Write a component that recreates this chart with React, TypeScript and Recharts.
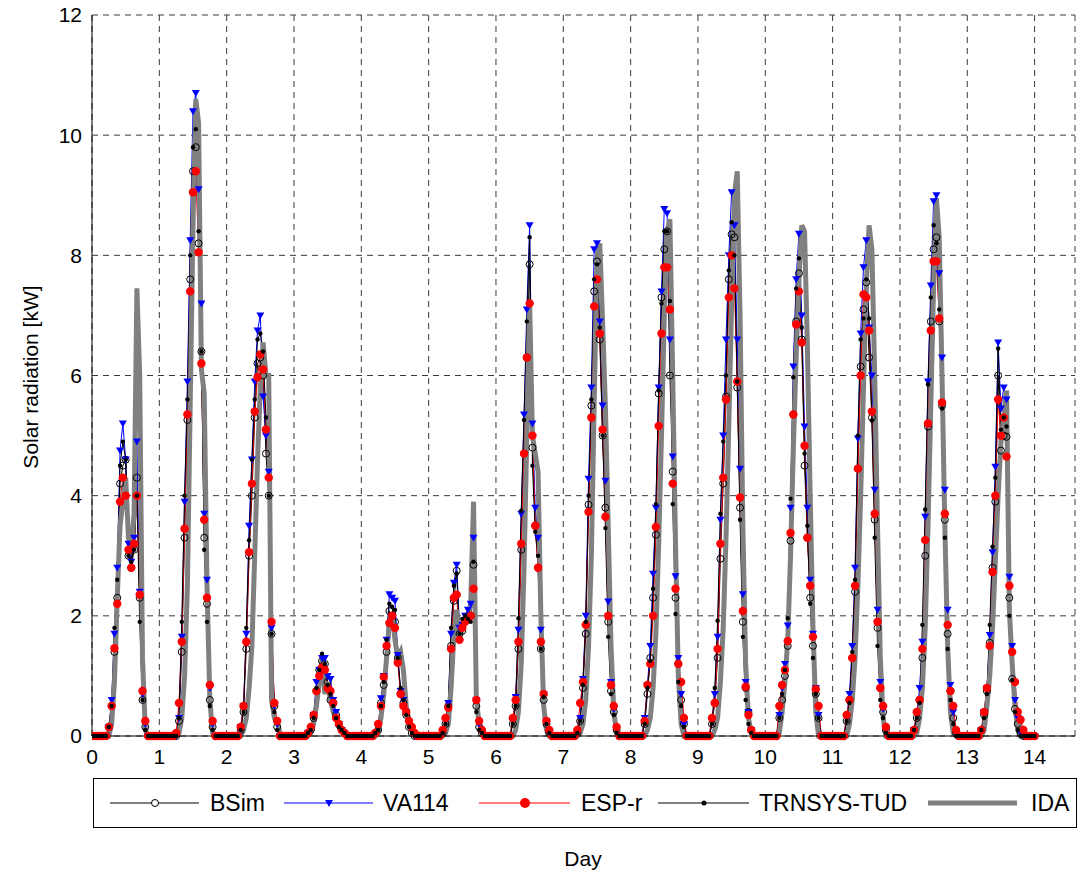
import React from "react";
import { LineChart, Line, XAxis, YAxis, CartesianGrid } from "recharts";

const FONT = '"Liberation Sans", Arial, sans-serif';

// hourly values, each day row starts at 04:00 and runs to 20:00; other hours are night (0)
const firstHour = 4;
const dayTicks = [0, 1, 2, 3, 4, 5, 6, 7, 8, 9, 10, 11, 12, 13, 14];
const kwTicks = [0, 2, 4, 6, 8, 10, 12];

const bsim = [
  [0, 0, 0.15, 0.5, 1.4, 2.3, 4.2, 4.5, 4.6, 3.0, 2.8, 3.1, 4.3, 2.3, 0.6, 0.15, 0],
  [0, 0, 0, 0.25, 1.4, 3.3, 5.26, 7.6, 9.4, 9.8, 8.2, 6.4, 3.3, 2.2, 0.6, 0.15, 0],
  [0, 0.1, 0.4, 1.45, 3.0, 4.0, 5.3, 6.2, 6.3, 6.0, 4.7, 4.0, 1.7, 0.5, 0.15, 0, 0],
  [0, 0.05, 0.1, 0.3, 0.75, 1.1, 1.25, 1.2, 0.9, 0.6, 0.55, 0.35, 0.2, 0.1, 0.05, 0, 0],
  [0, 0.05, 0.1, 0.55, 0.85, 1.4, 2.08, 2.0, 1.9, 1.3, 0.7, 0.55, 0.35, 0.15, 0.05, 0, 0],
  [0, 0.05, 0.2, 0.5, 1.5, 2.25, 2.75, 1.7, 1.75, 1.9, 2.0, 2.0, 2.85, 0.5, 0.15, 0.05, 0],
  [0, 0, 0.2, 0.5, 1.45, 3.1, 4.7, 6.3, 7.85, 4.8, 3.5, 2.8, 1.45, 0.6, 0.2, 0.05, 0],
  [0, 0.05, 0.25, 0.8, 1.7, 3.85, 5.5, 7.4, 7.9, 6.6, 5.0, 3.8, 1.9, 0.75, 0.4, 0.1, 0],
  [0, 0.2, 0.7, 1.3, 2.3, 3.35, 5.7, 7.3, 8.1, 8.4, 6.0, 4.4, 2.3, 1.2, 0.6, 0.2, 0],
  [0, 0.2, 0.55, 1.3, 2.95, 4.2, 5.65, 7.6, 8.35, 8.3, 5.8, 3.8, 1.9, 0.8, 0.4, 0.1, 0],
  [0, 0.3, 0.6, 1.0, 1.5, 3.25, 5.35, 6.9, 7.7, 6.6, 4.5, 3.3, 2.3, 1.5, 0.7, 0.3, 0],
  [0, 0.25, 0.6, 1.3, 2.4, 4.45, 6.15, 7.1, 7.55, 6.3, 5.3, 3.6, 1.8, 0.8, 0.4, 0.1, 0],
  [0, 0.1, 0.3, 0.6, 1.3, 3.0, 5.15, 6.9, 8.1, 8.3, 6.9, 5.5, 3.6, 1.7, 0.75, 0.3, 0.05],
  [0, 0.1, 0.35, 0.75, 1.55, 2.8, 3.9, 6.0, 4.75, 5.0, 4.98, 2.3, 0.95, 0.45, 0.2, 0.05, 0],
];

const va114 = [
  [0, 0, 0.15, 0.6, 1.7, 2.8, 4.75, 5.2, 4.6, 3.2, 2.9, 3.3, 4.9, 2.4, 0.7, 0.2, 0],
  [0, 0, 0, 0.3, 1.65, 3.9, 5.9, 8.25, 10.4, 10.7, 9.1, 7.2, 3.7, 2.6, 0.8, 0.2, 0],
  [0, 0.15, 0.5, 1.7, 3.5, 4.6, 5.9, 6.75, 7.0, 5.65, 5.0, 4.4, 1.8, 0.5, 0.2, 0, 0],
  [0, 0.05, 0.1, 0.35, 0.9, 1.1, 1.3, 1.3, 1.0, 0.95, 0.6, 0.4, 0.2, 0.1, 0.05, 0, 0],
  [0, 0.05, 0.15, 0.63, 1.0, 1.6, 2.36, 2.3, 2.25, 1.35, 0.75, 0.6, 0.4, 0.2, 0.1, 0, 0],
  [0, 0.05, 0.25, 0.55, 1.7, 2.55, 2.85, 1.8, 1.85, 2.0, 2.1, 2.2, 3.3, 0.6, 0.2, 0.05, 0],
  [0, 0, 0.25, 0.65, 1.77, 3.7, 5.35, 7.1, 8.5, 5.2, 3.8, 3.3, 1.77, 0.7, 0.25, 0.05, 0],
  [0, 0.05, 0.3, 0.95, 2.0, 4.28, 5.8, 8.1, 8.2, 6.9, 5.5, 4.25, 2.24, 0.9, 0.45, 0.1, 0],
  [0, 0.3, 0.85, 1.5, 2.7, 3.8, 5.8, 7.4, 8.77, 8.7, 6.6, 4.65, 2.66, 1.3, 0.7, 0.2, 0],
  [0, 0.25, 0.7, 1.65, 3.6, 5.0, 6.6, 8.0, 9.05, 8.5, 6.6, 4.45, 2.36, 0.9, 0.4, 0.1, 0],
  [0, 0.35, 0.8, 1.2, 1.84, 3.8, 6.15, 7.6, 8.36, 7.0, 5.15, 3.8, 2.6, 1.7, 0.8, 0.35, 0],
  [0, 0.3, 0.7, 1.5, 2.8, 4.95, 6.7, 7.8, 8.25, 6.8, 6.0, 4.1, 2.1, 0.9, 0.45, 0.1, 0],
  [0, 0.1, 0.35, 0.8, 1.57, 3.65, 5.9, 7.5, 8.9, 9.0, 7.7, 6.3, 4.1, 2.1, 0.85, 0.4, 0.05],
  [0, 0.1, 0.4, 0.8, 1.68, 3.06, 4.48, 6.55, 5.45, 5.8, 5.6, 2.65, 1.5, 0.6, 0.3, 0.05, 0],
];

const espr = [
  [0, 0, 0.15, 0.5, 1.46, 2.2, 3.9, 4.3, 4.0, 3.1, 2.8, 3.2, 4.0, 2.35, 0.75, 0.25, 0],
  [0, 0, 0.05, 0.55, 1.57, 3.45, 5.35, 7.4, 9.05, 9.4, 8.05, 6.2, 3.6, 2.3, 0.85, 0.25, 0],
  [0, 0.15, 0.5, 1.57, 3.06, 4.2, 5.4, 5.97, 6.35, 6.1, 5.1, 4.3, 1.9, 0.55, 0.25, 0, 0],
  [0, 0.05, 0.15, 0.35, 0.75, 1.0, 1.14, 1.1, 0.8, 0.75, 0.55, 0.3, 0.2, 0.1, 0.05, 0, 0],
  [0, 0.05, 0.2, 0.5, 0.98, 1.5, 1.88, 2.0, 1.8, 1.22, 0.7, 0.5, 0.4, 0.25, 0.15, 0.05, 0],
  [0, 0.1, 0.3, 0.47, 1.45, 2.3, 2.35, 1.6, 1.8, 1.9, 1.95, 2.0, 2.45, 0.6, 0.25, 0.1, 0],
  [0, 0, 0.3, 0.6, 1.57, 3.2, 4.7, 6.3, 7.2, 5.0, 3.5, 2.8, 1.57, 0.7, 0.25, 0.1, 0],
  [0, 0.1, 0.55, 0.9, 1.85, 3.73, 5.3, 7.15, 7.6, 6.7, 5.1, 3.65, 2.0, 0.85, 0.5, 0.15, 0],
  [0, 0.25, 0.85, 1.2, 2.0, 3.48, 5.16, 6.7, 7.8, 7.8, 7.1, 4.2, 2.45, 1.2, 0.9, 0.3, 0],
  [0, 0.3, 0.55, 1.45, 3.2, 4.3, 5.6, 7.3, 8.0, 7.45, 5.9, 3.97, 2.08, 0.82, 0.35, 0.1, 0],
  [0, 0.5, 0.85, 1.1, 1.58, 3.38, 5.35, 6.85, 7.4, 6.55, 4.83, 3.3, 2.5, 1.65, 0.78, 0.5, 0],
  [0, 0.35, 0.6, 1.3, 2.5, 4.45, 6.0, 7.35, 7.3, 6.75, 5.4, 3.7, 1.9, 0.8, 0.5, 0.15, 0],
  [0, 0.1, 0.4, 0.6, 1.45, 3.26, 5.2, 6.75, 7.9, 7.9, 6.95, 5.55, 3.7, 1.85, 0.75, 0.5, 0.1],
  [0, 0.1, 0.4, 0.8, 1.5, 2.73, 4.0, 5.6, 5.0, 5.3, 4.65, 2.5, 1.4, 0.9, 0.4, 0.27, 0.1],
];

const trnsys = [
  [0, 0, 0.15, 0.5, 1.8, 2.6, 4.5, 4.9, 4.6, 3.0, 2.9, 3.1, 4.0, 1.9, 0.6, 0.1, 0],
  [0, 0, 0, 0.3, 1.9, 4.0, 5.6, 8.0, 9.8, 10.1, 8.4, 6.4, 3.1, 1.9, 0.5, 0.1, 0],
  [0, 0.1, 0.4, 1.8, 3.26, 4.6, 5.6, 6.6, 6.7, 6.4, 5.3, 4.0, 1.7, 0.4, 0.1, 0, 0],
  [0, 0.05, 0.1, 0.3, 0.8, 1.1, 1.37, 1.2, 0.85, 0.7, 0.5, 0.3, 0.15, 0.1, 0.05, 0, 0],
  [0, 0.05, 0.1, 0.5, 0.9, 1.6, 2.2, 2.15, 2.1, 1.3, 0.8, 0.6, 0.35, 0.15, 0.05, 0, 0],
  [0, 0.05, 0.2, 0.5, 1.8, 2.5, 2.7, 1.7, 1.95, 2.0, 1.95, 1.9, 2.9, 0.4, 0.1, 0.05, 0],
  [0, 0, 0.2, 0.5, 1.96, 3.75, 5.26, 6.9, 8.3, 4.5, 3.4, 3.0, 1.45, 0.65, 0.2, 0.05, 0],
  [0, 0.05, 0.25, 0.85, 1.9, 4.0, 5.6, 7.6, 7.85, 6.8, 5.0, 3.46, 1.65, 0.7, 0.35, 0.05, 0],
  [0, 0.2, 0.8, 1.25, 2.45, 3.86, 5.75, 7.2, 8.4, 8.4, 7.24, 3.86, 2.03, 0.9, 0.5, 0.15, 0],
  [0, 0.2, 0.8, 1.92, 3.7, 4.9, 6.0, 7.75, 8.55, 8.0, 5.9, 3.6, 1.65, 0.6, 0.2, 0.05, 0],
  [0, 0.3, 0.7, 1.1, 1.96, 3.95, 5.97, 7.45, 7.95, 6.8, 4.7, 3.5, 2.2, 1.3, 0.7, 0.3, 0],
  [0, 0.25, 0.55, 1.4, 2.6, 5.0, 6.6, 6.95, 7.6, 6.95, 5.25, 3.3, 1.5, 0.6, 0.3, 0.05, 0],
  [0, 0.1, 0.3, 0.55, 1.85, 3.77, 5.85, 7.3, 8.5, 8.2, 7.1, 5.45, 3.3, 1.45, 0.6, 0.2, 0],
  [0, 0.1, 0.3, 0.7, 1.85, 3.15, 4.3, 6.45, 5.1, 5.3, 5.15, 2.0, 0.93, 0.4, 0.1, 0, 0],
];

const ida = [
  [0, 0, 0, 0.2, 0.9, 2.3, 3.5, 3.9, 4.3, 3.3, 3.1, 3.7, 7.45, 6.0, 1.3, 0.1, 0],
  [0, 0, 0, 0.05, 0.3, 1.0, 2.5, 5.5, 8.5, 10.6, 10.2, 6.1, 5.7, 2.5, 0.6, 0.05, 0],
  [0, 0, 0.1, 0.3, 0.8, 1.5, 3.0, 4.6, 5.8, 6.55, 6.0, 6.0, 0.6, 0.3, 0.25, 0.05, 0],
  [0, 0, 0.05, 0.2, 0.5, 0.9, 1.25, 0.7, 0.9, 0.6, 0.4, 0.3, 0.15, 0.1, 0.05, 0, 0],
  [0, 0, 0.05, 0.3, 0.7, 1.3, 1.9, 2.0, 1.6, 1.3, 1.4, 1.1, 0.5, 0.25, 0.1, 0.05, 0],
  [0, 0, 0.05, 0.2, 0.8, 1.7, 2.1, 1.65, 1.8, 1.9, 2.0, 2.2, 3.9, 0.6, 0.2, 0.1, 0],
  [0, 0, 0, 0.1, 0.4, 1.2, 2.8, 5.0, 7.2, 5.0, 4.7, 4.4, 2.0, 0.5, 0.1, 0, 0],
  [0, 0, 0.05, 0.2, 0.6, 1.5, 3.0, 5.5, 8.0, 8.2, 6.9, 5.5, 3.5, 1.5, 0.4, 0.05, 0],
  [0, 0, 0.1, 0.3, 0.8, 1.7, 3.2, 5.0, 7.0, 8.4, 8.6, 6.0, 3.2, 1.0, 0.2, 0, 0],
  [0, 0, 0.1, 0.3, 0.9, 1.8, 3.3, 5.2, 7.2, 9.0, 9.4, 7.0, 3.5, 1.2, 0.3, 0.05, 0],
  [0, 0.05, 0.4, 0.9, 1.6, 3.0, 4.8, 6.3, 7.6, 8.5, 8.4, 6.5, 4.0, 1.8, 0.4, 0, 0],
  [0, 0, 0.2, 0.6, 1.3, 2.5, 4.0, 5.8, 7.5, 8.5, 8.1, 6.0, 3.5, 1.3, 0.3, 0, 0],
  [0, 0, 0.05, 0.3, 0.8, 1.8, 3.5, 5.5, 7.5, 8.95, 8.3, 6.0, 3.5, 1.5, 0.4, 0.05, 0],
  [0, 0, 0.1, 0.5, 1.0, 1.8, 2.9, 4.0, 4.9, 5.3, 5.75, 2.1, 1.2, 0.5, 0.1, 0, 0],
];

function buildRows() {
  const rows: any[] = [];
  for (let d = 0; d < bsim.length; d++) {
    for (let h = 0; h < 24; h++) {
      const i = h - firstHour;
      const pick = (s: number[][]) => (i >= 0 && i < s[d].length ? s[d][i] : 0);
      rows.push({
        t: d + h / 24,
        bsim: pick(bsim),
        va114: pick(va114),
        espr: pick(espr),
        trnsys: pick(trnsys),
        ida: pick(ida),
      });
    }
  }
  rows.push({ t: bsim.length, bsim: 0, va114: 0, espr: 0, trnsys: 0, ida: 0 });
  return rows;
}

const data = buildRows();

const TriangleDot = (props: any) => {
  const { cx, cy, index } = props;
  if (cx == null || cy == null) return <g key={"v" + index} />;
  return (
    <path
      key={"v" + index}
      d={`M${cx - 4},${cy - 3}L${cx + 4},${cy - 3}L${cx},${cy + 4}Z`}
      fill="#0000ff"
    />
  );
};

const tickStyle = { fill: "#000", fontSize: 21, fontFamily: FONT };

function Overlay() {
  const ly = 803;
  return (
    <svg
      width={1078}
      height={875}
      style={{ position: "absolute", left: 0, top: 0, pointerEvents: "none" }}
    >
      <text
        x={30}
        y={377}
        transform="rotate(-90 30 377)"
        textAnchor="middle"
        dominantBaseline="central"
        fontSize={21}
        fontFamily={FONT}
      >
        Solar radiation [kW]
      </text>
      <rect x={93.5} y={778.5} width={983} height={49} fill="#fff" stroke="#000" />
      <line x1={110} x2={199} y1={ly} y2={ly} stroke="#000" />
      <circle cx={155} cy={ly} r={3.5} fill="#fff" stroke="#000" />
      <text x={210} y={ly} dominantBaseline="central" fontSize={23} fontFamily={FONT}>BSim</text>
      <line x1={284} x2={373} y1={ly} y2={ly} stroke="#0000ff" />
      <path d={`M325,${ly - 3}L333,${ly - 3}L329,${ly + 4}Z`} fill="#0000ff" />
      <text x={383} y={ly} dominantBaseline="central" fontSize={23} fontFamily={FONT}>VA114</text>
      <line x1={479} x2={570} y1={ly} y2={ly} stroke="#ff0000" />
      <circle cx={525} cy={ly} r={5} fill="#ff0000" />
      <text x={581} y={ly} dominantBaseline="central" fontSize={23} fontFamily={FONT}>ESP-r</text>
      <line x1={658} x2={749} y1={ly} y2={ly} stroke="#000" />
      <circle cx={704} cy={ly} r={2.5} fill="#000" />
      <text x={759} y={ly} dominantBaseline="central" fontSize={23} fontFamily={FONT}>TRNSYS-TUD</text>
      <line x1={928} x2={1017} y1={ly} y2={ly} stroke="#808080" strokeWidth={5} />
      <text x={1031} y={ly} dominantBaseline="central" fontSize={23} fontFamily={FONT}>IDA</text>
      <text x={583} y={858} textAnchor="middle" dominantBaseline="central" fontSize={21} fontFamily={FONT}>
        Day
      </text>
    </svg>
  );
}

export default function App() {
  return (
    <div style={{ position: "absolute", left: 0, top: 0, width: 1078, height: 875, background: "#fff" }}>
      <LineChart
        width={1078}
        height={875}
        data={data}
        margin={{ top: 15, right: 3, bottom: 109, left: 0 }}
      >
        <CartesianGrid stroke="#3a3a3a" strokeDasharray="6 5" />
        <XAxis
          dataKey="t"
          type="number"
          domain={[0, 14.6]}
          ticks={dayTicks}
          allowDataOverflow
          height={30}
          tickLine={false}
          tickMargin={7}
          tick={tickStyle}
          axisLine={{ stroke: "#000" }}
        />
        <XAxis
          xAxisId="top"
          orientation="top"
          dataKey="t"
          type="number"
          domain={[0, 14.6]}
          height={0}
          tick={false}
          tickLine={false}
          axisLine={{ stroke: "#000" }}
        />
        <YAxis
          type="number"
          domain={[0, 12]}
          ticks={kwTicks}
          width={92}
          tickLine={false}
          tickMargin={4}
          tick={tickStyle}
          axisLine={{ stroke: "#000" }}
        />
        <YAxis
          yAxisId="right"
          orientation="right"
          type="number"
          domain={[0, 12]}
          width={0}
          tick={false}
          tickLine={false}
          axisLine={{ stroke: "#000" }}
        />
        <Line
          dataKey="bsim"
          type="linear"
          stroke="#000"
          strokeWidth={1}
          dot={{ r: 3.5, fill: "none", stroke: "#000", strokeWidth: 1 }}
          isAnimationActive={false}
        />
        <Line
          dataKey="va114"
          type="linear"
          stroke="#0000ff"
          strokeWidth={1}
          dot={TriangleDot}
          isAnimationActive={false}
        />
        <Line
          dataKey="espr"
          type="linear"
          stroke="#ff0000"
          strokeWidth={1}
          dot={{ r: 4.2, fill: "#ff0000", stroke: "#ff0000", strokeWidth: 0 }}
          isAnimationActive={false}
        />
        <Line
          dataKey="trnsys"
          type="linear"
          stroke="#000"
          strokeWidth={1}
          dot={{ r: 2.2, fill: "#000", stroke: "#000", strokeWidth: 0 }}
          isAnimationActive={false}
        />
        <Line
          dataKey="ida"
          type="linear"
          stroke="#808080"
          strokeWidth={5}
          dot={false}
          isAnimationActive={false}
        />
      </LineChart>
      <Overlay />
    </div>
  );
}
